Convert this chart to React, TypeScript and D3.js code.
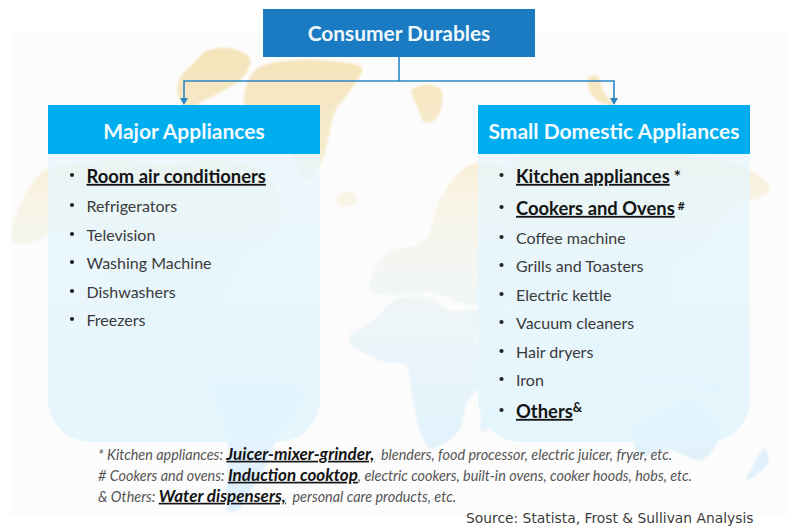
import React from "react";
import * as d3 from "d3";

const W = 789, H = 527;
const title = "Consumer Durables";
const leftTitle = "Major Appliances";
const rightTitle = "Small Domestic Appliances";
type Item = { t: string; bold?: boolean; sup?: string; y: number };
const leftItems: Item[] = [
  { t: "Room air conditioners", bold: true, y: 176 },
  { t: "Refrigerators", y: 206 },
  { t: "Television", y: 235 },
  { t: "Washing Machine", y: 263 },
  { t: "Dishwashers", y: 292 },
  { t: "Freezers", y: 320 },
];
const rightItems: Item[] = [
  { t: "Kitchen appliances", bold: true, sup: " *", y: 176 },
  { t: "Cookers and Ovens", bold: true, sup: " #", y: 208 },
  { t: "Coffee machine", y: 238 },
  { t: "Grills and Toasters", y: 266 },
  { t: "Electric kettle", y: 295 },
  { t: "Vacuum cleaners", y: 323 },
  { t: "Hair dryers", y: 352 },
  { t: "Iron", y: 380 },
  { t: "Others", bold: true, sup: "&", y: 411 },
];
const notes = [
  { a: "* Kitchen appliances: ", b: "Juicer-mixer-grinder,", c: "  blenders, food processor, electric juicer, fryer, etc.", y: 455 },
  { a: "# Cookers and ovens: ", b: "Induction cooktop", c: ", electric cookers, built-in ovens, cooker hoods, hobs, etc.", y: 476 },
  { a: "& Others: ", b: "Water dispensers,", c: "  personal care products, etc.", y: 497 },
];
const source = "Source: Statista, Frost & Sullivan Analysis";

const greenlandW: [number, number][] = [[205,52],[228,48],[250,58],[245,75],[225,90],[205,100],[188,108],[177,92],[180,78],[195,62]];
const greenlandE: [number, number][] = [[258,68],[300,60],[340,62],[362,68],[352,88],[335,112],[328,140],[320,165],[305,180],[290,150],[260,125],[245,105],[245,90]];
const northAmerica: [number, number][] = [[20,205],[45,170],[70,165],[120,160],[165,165],[210,160],[262,172],[285,215],[268,240],[240,262],[225,290],[205,315],[185,325],[178,345],[205,362],[225,372],[205,378],[180,355],[160,340],[135,315],[110,280],[90,245],[60,232],[25,245],[12,240]];
const southAmerica: [number, number][] = [[225,352],[262,358],[285,378],[306,390],[298,415],[278,435],[268,462],[248,495],[238,510],[228,510],[228,470],[226,435],[210,395],[208,378]];
const africa: [number, number][] = [[372,322],[395,300],[430,298],[448,310],[480,312],[478,345],[500,352],[482,385],[468,400],[458,432],[430,448],[420,430],[412,395],[405,365],[385,362],[352,345],[350,335]];
const europe: [number, number][] = [[370,290],[385,255],[425,240],[440,200],[470,165],[510,170],[520,200],[510,290],[475,305],[430,292],[395,295]];
const asia: [number, number][] = [[500,300],[505,200],[520,155],[590,150],[680,155],[750,170],[770,190],[730,210],[705,245],[672,270],[665,305],[625,330],[600,365],[575,340],[560,325],[545,335],[522,302]];
const indonesia: [number, number][] = [[615,355],[640,360],[690,370],[735,395],[700,390],[650,385],[625,375]];
const australia: [number, number][] = [[632,425],[665,408],[690,398],[718,420],[716,445],[700,460],[670,450],[640,455]];
const nz: [number, number][] = [[764,448],[769,460],[760,472],[746,480],[752,468]];
const madagascar: [number, number][] = [[488,402],[494,404],[484,432],[480,428]];
const svalbard: [number, number][] = [[412,90],[432,85],[442,92],[437,118],[425,123],[418,108]];
const arctic2: [number, number][] = [[588,78],[597,76],[604,92],[614,106],[600,102],[590,92]];
const iceland: [number, number][] = [[337,196],[352,192],[356,202],[342,207]];
const landmasses = [greenlandW, greenlandE, northAmerica, southAmerica, africa, europe, asia, indonesia, australia, nz, madagascar, svalbard, arctic2, iceland];

const SANS = "Lato, 'Open Sans', sans-serif";
const blob = d3.line<[number, number]>().curve(d3.curveCatmullRomClosed.alpha(0.5));

function Panel({ x, label }: { x: number; label: string }) {
  const w = 272, top = 105, head = 49, bottom = 442, r = 42;
  const y0 = top + head;
  const p = d3.path();
  p.moveTo(x, y0);
  p.lineTo(x + w, y0);
  p.lineTo(x + w, bottom - r);
  p.arcTo(x + w, bottom, x + w - r, bottom, r);
  p.lineTo(x + r, bottom);
  p.arcTo(x, bottom, x, bottom - r, r);
  p.closePath();
  return (
    <g>
      <path d={p.toString()} fill="url(#panel)" />
      <rect x={x} y={top} width={w} height={head} fill="#00aeef" />
      <text x={x + w / 2} y={top + 26.5} dy="0.35em" textAnchor="middle" fill="#f4fbfe" fontFamily={SANS} fontWeight={700} fontSize={21}>{label}</text>
    </g>
  );
}

function List({ items, x }: { items: Item[]; x: number }) {
  return (
    <g fontFamily={SANS}>
      {items.map((d) => (
        <g key={d.t}>
          <circle cx={x - 14.5} cy={d.y - 1} r={2.1} fill="#222" />
          <text x={x} y={d.y + 0.8} dy="0.33em" fill={d.bold ? "#141414" : "#3a3a3a"} fontWeight={d.bold ? 700 : 400} fontSize={d.bold ? 18.4 : 16}>
            <tspan textDecoration={d.bold ? "underline" : undefined}>{d.t}</tspan>
            {d.sup === " *" && <tspan fontSize={17}>{d.sup}</tspan>}
            {d.sup === " #" && <tspan fontSize={12} dy={-5}>{d.sup}</tspan>}
            {d.sup === "&" && <tspan fontSize={13} dy={-6}>{d.sup}</tspan>}
          </text>
        </g>
      ))}
    </g>
  );
}

export default function App() {
  return (
    <svg width={W} height={H} viewBox={`0 0 ${W} ${H}`} style={{ position: "fixed", left: 0, top: 0, background: "#fff" }}>
      <defs>
        <linearGradient id="land" gradientUnits="userSpaceOnUse" x1="0" y1="50" x2="0" y2="510">
          <stop offset="0" stopColor="#f5e4ba" />
          <stop offset="0.2" stopColor="#f7ebcd" />
          <stop offset="0.32" stopColor="#f9f4e4" />
          <stop offset="0.48" stopColor="#f3f6f4" />
          <stop offset="0.68" stopColor="#e9f4fa" />
          <stop offset="1" stopColor="#dcf0fb" />
        </linearGradient>
        <linearGradient id="panel" x1="0" y1="0" x2="0" y2="1">
          <stop offset="0" stopColor="#e6f6fd" stopOpacity={0.72} />
          <stop offset="1" stopColor="#e2f5fd" stopOpacity={0.85} />
        </linearGradient>
        <filter id="soft"><feGaussianBlur stdDeviation={0.8} /></filter>
      </defs>
      <rect x={10} y={33} width={779} height={483} fill="#fcfcfc" />
      <g fill="url(#land)" filter="url(#soft)">
        {landmasses.map((m, i) => <path key={i} d={blob(m) ?? ""} />)}
      </g>
      <Panel x={48} label={leftTitle} />
      <Panel x={478} label={rightTitle} />
      <rect x={263} y={9} width={272} height={48} fill="#1a7bc2" />
      <text x={399} y={34} dy="0.35em" textAnchor="middle" fill="#eef7fc" fontFamily={SANS} fontWeight={700} fontSize={20.9}>{title}</text>
      <g fill="none" stroke="#2c86c4" strokeWidth={1.6}>
        <path d={d3.line()([[399, 57], [399, 81]]) ?? ""} />
        <path d={d3.line()([[184, 98], [184, 81], [614, 81], [614, 98]]) ?? ""} />
      </g>
      <path d={d3.line()([[180, 98], [188, 98], [184, 105]]) ?? ""} fill="#2c86c4" />
      <path d={d3.line()([[610, 98], [618, 98], [614, 105]]) ?? ""} fill="#2c86c4" />
      <List items={leftItems} x={86.5} />
      <List items={rightItems} x={516} />
      <g fontFamily={SANS} fontStyle="italic" fontSize={14.4} fill="#555">
        {notes.map((n) => (
          <text key={n.y} x={98} y={n.y} dy="0.33em" xmlSpace="preserve">
            <tspan>{n.a}</tspan>
            <tspan fontWeight={700} fontSize={17} fill="#141414" textDecoration="underline">{n.b}</tspan>
            <tspan>{n.c}</tspan>
          </text>
        ))}
      </g>
      <text x={466} y={518} dy="0.33em" fontFamily="'DejaVu Sans', sans-serif" fontSize={13.85} fill="#3c3c3c">{source}</text>
    </svg>
  );
}
